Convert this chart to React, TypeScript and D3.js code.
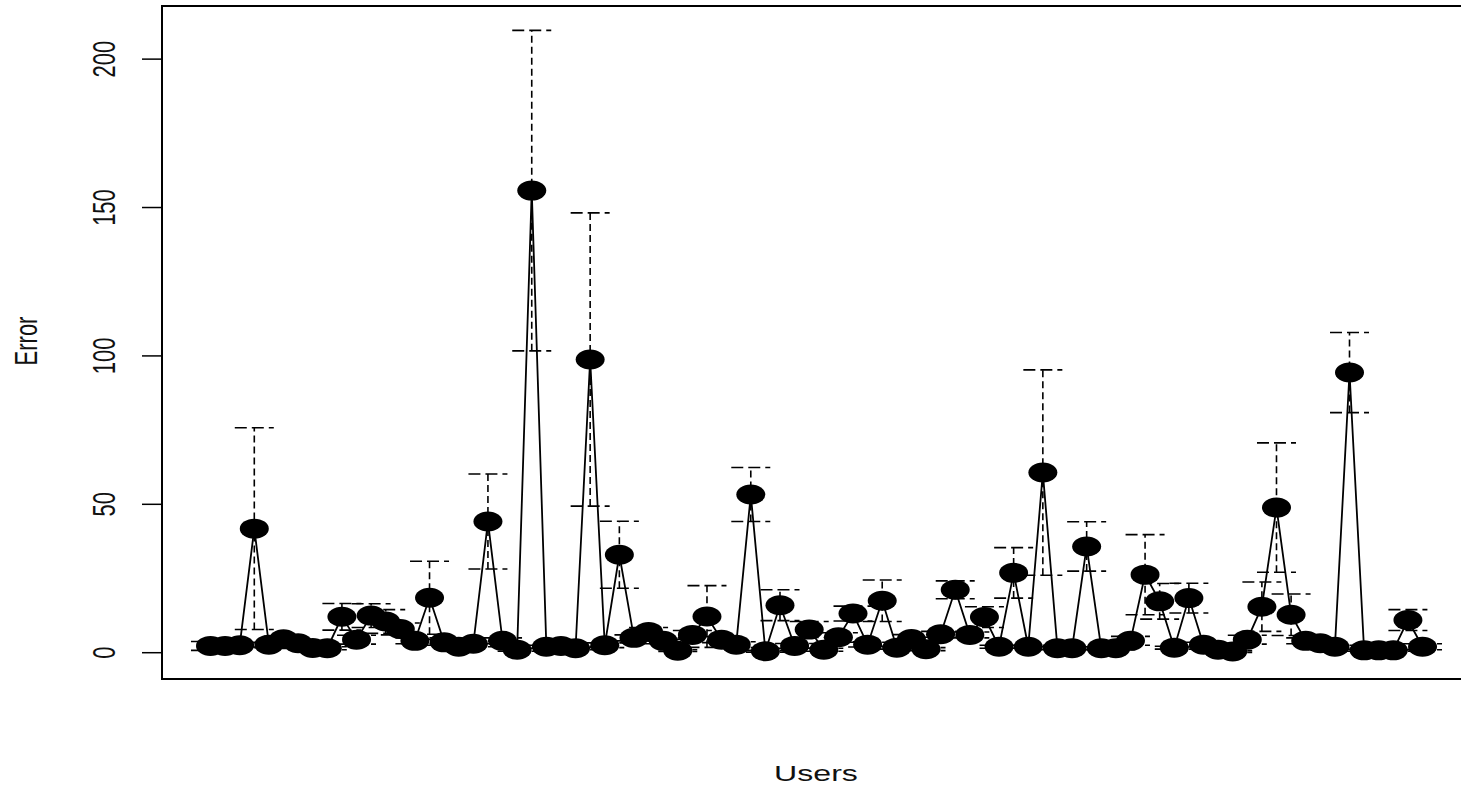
import React from "react";
import * as d3 from "d3";

// mean error per user
const errorMean = [
  2.3, 2.3, 2.5, 41.8, 2.7, 4.5, 3.2, 1.6, 1.5, 12.1,
  4.4, 12.5, 10.5, 8, 4, 18.5, 3.5, 2, 3, 44.2,
  4, 1, 155.7, 2, 2.3, 1.5, 98.8, 2.5, 33, 5,
  7, 4, 0.7, 6, 12.2, 4.4, 2.7, 53.3, 0.5, 16,
  2.3, 7.8, 1, 5.2, 13.2, 2.7, 17.5, 1.7, 4.6, 1.2,
  6.2, 21.2, 6, 12, 2, 26.9, 2, 60.7, 1.5, 1.5,
  35.8, 1.5, 1.5, 4, 26.3, 17.3, 1.7, 18.4, 2.7, 1,
  0.4, 4.4, 15.5, 48.9, 12.8, 4, 3.2, 2, 94.4, 0.8,
  0.8, 0.8, 11, 2,
];

// standard deviation for the dashed error bars
const errorSd = [
  1.5, 0.8, 0.8, 34, 0.8, 1, 0.8, 0.5, 0.5, 4.5,
  1.5, 4, 4, 2, 1, 12.3, 1, 0.5, 1, 16,
  1, 0.5, 54, 0.5, 0.5, 0.5, 49.4, 0.8, 11.3, 1,
  1.5, 1, 0.3, 1.5, 10.4, 1, 1, 9.1, 0.3, 5.2,
  0.8, 2.7, 0.5, 1.5, 2.5, 0.8, 7, 0.5, 1.5, 0.5,
  1, 3, 1, 3.5, 0.5, 8.5, 0.5, 34.6, 0.5, 0.5,
  8.3, 0.5, 0.5, 1.5, 13.5, 6, 0.5, 5, 0.8, 0.5,
  0.3, 1.5, 8.3, 21.8, 7, 1, 0.8, 0.5, 13.5, 0.3,
  0.3, 0.3, 3.5, 1,
];

const yTicks = [0, 50, 100, 150, 200];

const W = 1461;
const H = 788;
const STRETCH = 1.46; // the picture is wider than tall, text and dots are stretched
const FONT = "'Liberation Sans', Arial, sans-serif";

export default function App() {
  const n = errorMean.length;
  const users = errorMean.map((_, i) => i + 1);

  // R style 4% padding on both ends
  const pad = (n - 1) * 0.04;
  const x = d3.scaleLinear().domain([1 - pad, n + pad]).range([162, 1471]);
  const y = d3.scaleLinear().domain([-8.86, 217.9]).range([679, 6]);

  const line = d3
    .line<number>()
    .x((_, i) => x(users[i]))
    .y((d) => y(d));

  const capW = 19.5;

  return (
    <svg
      width={W}
      height={H}
      style={{ position: "absolute", left: 0, top: 0, background: "#fff" }}
    >
      {/* error bars */}
      <g stroke="#000" strokeWidth={1.6} fill="none">
        {errorMean.map((m, i) => {
          const cx = x(users[i]);
          const lo = y(m - errorSd[i]);
          const hi = y(m + errorSd[i]);
          return (
            <g key={i}>
              <line x1={cx} x2={cx} y1={lo} y2={hi} strokeDasharray="7,4" />
              <line x1={cx - capW} x2={cx + capW} y1={hi} y2={hi} strokeDasharray="12,5" />
              <line x1={cx - capW} x2={cx + capW} y1={lo} y2={lo} strokeDasharray="12,5" />
            </g>
          );
        })}
      </g>

      {/* connecting line */}
      <path d={line(errorMean) ?? ""} fill="none" stroke="#000" strokeWidth={1.8} />

      {/* points */}
      <g fill="#000">
        {errorMean.map((m, i) => (
          <ellipse key={i} cx={x(users[i])} cy={y(m)} rx={14.5} ry={10} />
        ))}
      </g>

      {/* box */}
      <rect
        x={162}
        y={6}
        width={1471 - 162}
        height={679 - 6}
        fill="none"
        stroke="#000"
        strokeWidth={2}
      />

      {/* y axis */}
      <g stroke="#000" strokeWidth={1.5}>
        <line x1={162} x2={162} y1={y(0)} y2={y(200)} />
        {yTicks.map((t) => (
          <line key={t} x1={142} x2={162} y1={y(t)} y2={y(t)} />
        ))}
      </g>
      <g fill="#111" fontFamily={FONT} fontSize={22}>
        {yTicks.map((t) => (
          <text
            key={t}
            transform={`translate(103.5, ${y(t)}) scale(${STRETCH},1) rotate(-90)`}
            textAnchor="middle"
            dy="0.36em"
          >
            {t}
          </text>
        ))}
        <text
          transform={`translate(25, 341) scale(${STRETCH},1) rotate(-90)`}
          textAnchor="middle"
          dy="0.36em"
        >
          Error
        </text>
        <text
          transform={`translate(816, 781) scale(${STRETCH},1)`}
          textAnchor="middle"
        >
          Users
        </text>
      </g>
    </svg>
  );
}
